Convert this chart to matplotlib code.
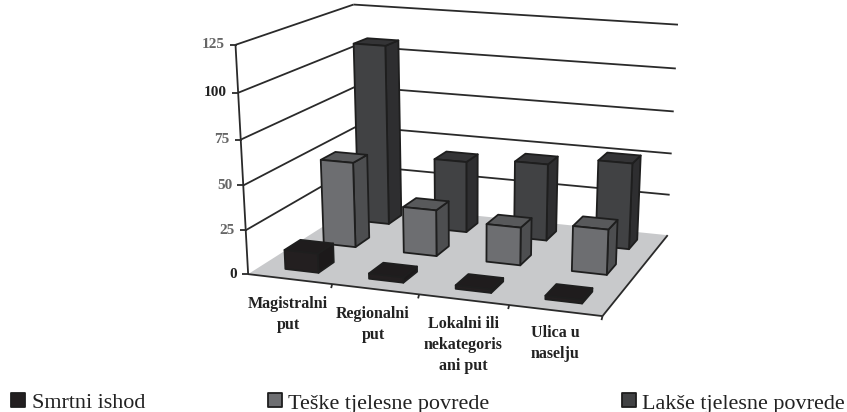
import numpy as np
import matplotlib
matplotlib.use("Agg")
import matplotlib.pyplot as plt
from matplotlib.patches import Polygon

categories = ["Magistralni\nput", "Regionalni\nput", "Lokalni ili\nnekategoris\nani put", "Ulica u\nnaselju"]
series_names = ["Smrtni ishod", "Teške tjelesne povrede", "Lakše tjelesne povrede"]
smrtni = [11, 3, 2, 2]
teske = [50, 27, 22, 26]
lakse = [108, 43, 46, 51]
y_ticks = [0, 25, 50, 75, 100, 125]

W, H = 847, 412
front = ["#231f20", "#6d6e71", "#414244"]
side = ["#1c191a", "#4d4e50", "#2e2e30"]
top = ["#1f1c1d", "#58595b", "#343436"]
EDGE = "#1e1e1e"
FLOOR = "#c8c9cb"

# camera: unit box corners (x, depth, value/125) -> pixel positions
box = [(0, 0, 0), (1, 0, 0), (1, 1, 0), (0, 1, 0), (0, 0, 1), (1, 0, 1), (1, 1, 1), (0, 1, 1)]
pix = [(247, 274), (602, 315), (668, 236), (360, 204), (236, 43), (612, 75), (677, 22), (353, 6)]
A = []
b = []
for (X, Y, Z), (u, v) in zip(box, pix):
    A.append([X, Y, Z, 1, 0, 0, 0, 0, -u * X, -u * Y, -u * Z])
    b.append(u)
    A.append([0, 0, 0, 0, X, Y, Z, 1, -v * X, -v * Y, -v * Z])
    b.append(v)
p = np.linalg.lstsq(np.array(A, float), np.array(b, float), rcond=None)[0]
P = np.append(p, 1.0).reshape(3, 4)


def proj(x, d, val):
    q = P @ np.array([x, d, val / 125.0, 1.0])
    return q[0] / q[2], q[1] / q[2]


plt.rcParams["font.family"] = ["Liberation Serif", "DejaVu Serif"]
fig = plt.figure(figsize=(W / 100, H / 100), dpi=100, facecolor="white")
ax = fig.add_axes([0, 0, 1, 1])
ax.set_xlim(0, W)
ax.set_ylim(H, 0)
ax.axis("off")


def poly(pts, fc, ec=EDGE, lw=1.3, z=2):
    ax.add_patch(Polygon(pts, closed=True, fc=fc, ec=ec, lw=lw, zorder=z, joinstyle="round"))


def line(a, b_, lw=1.3, z=1.5):
    ax.plot([a[0], b_[0]], [a[1], b_[1]], color="#2a2a2a", lw=lw, zorder=z, solid_capstyle="butt")


# floor
poly([proj(0, 0, 0), proj(1, 0, 0), proj(1, 1, 0), proj(0, 1, 0)], FLOOR, ec="none", z=1)
line(proj(0, 0, 0), proj(1, 0, 0), z=6)
line(proj(1, 0, 0), proj(1, 1, 0), z=6)

# walls: gridlines and axis
for t in y_ticks:
    if t > 0:
        line(proj(0, 0, t), proj(0, 1, t))
        line(proj(0, 1, t), proj(1, 1, t))
    u, v = proj(0, 0, t)
    line((u - 6, v), (u + 1, v), z=6)
    ax.text(u - 11, v, str(t), ha="right", va="center", fontsize=11, fontweight="bold",
            color="#222222" if t in (0, 100) else "#666666", zorder=7)
line(proj(0, 0, 0), proj(0, 0, 125), z=6)

# bars, drawn back to front
bar_w = 0.40 / 4
bar_d = 0.40 / 3
values = [smrtni, teske, lakse]
for s in [2, 1, 0]:
    d0 = (s + 0.5) / 3 - bar_d / 2
    d1 = d0 + bar_d
    for c in range(len(categories)):
        x0 = (c + 0.5) / 4 - bar_w / 2
        x1 = x0 + bar_w
        v = values[s][c]
        poly([proj(x1, d0, 0), proj(x1, d1, 0), proj(x1, d1, v), proj(x1, d0, v)], side[s], z=3)
        poly([proj(x0, d0, v), proj(x1, d0, v), proj(x1, d1, v), proj(x0, d1, v)], top[s], z=3)
        poly([proj(x0, d0, 0), proj(x1, d0, 0), proj(x1, d0, v), proj(x0, d0, v)], front[s], z=3)

# category ticks and labels
for i in range(1, 5):
    a_ = proj(i / 4, 0, 0)
    line(a_, (a_[0] - 1, a_[1] + 4), z=6)
label_pos = [(288, 296), (373, 306), (463, 316), (555, 325)]
for i, (u, v) in enumerate(label_pos):
    ax.text(u, v, categories[i], ha="center", va="top", fontsize=11.5, fontweight="bold",
            color="#222222", linespacing=1.4, zorder=7)

# legend
leg_sq = [(11, 393), (268, 393), (622, 393)]
leg_tx = [(32, 404), (288, 404), (642, 404)]
for s, name in enumerate(series_names):
    sx, sy = leg_sq[s]
    poly([(sx, sy), (sx + 14, sy), (sx + 14, sy + 14), (sx, sy + 14)], front[s], z=7)
    ax.text(leg_tx[s][0], leg_tx[s][1], name, ha="left", va="center", fontsize=15.9,
            color="#222222", zorder=7)

fig.savefig("out.png", dpi=100)
